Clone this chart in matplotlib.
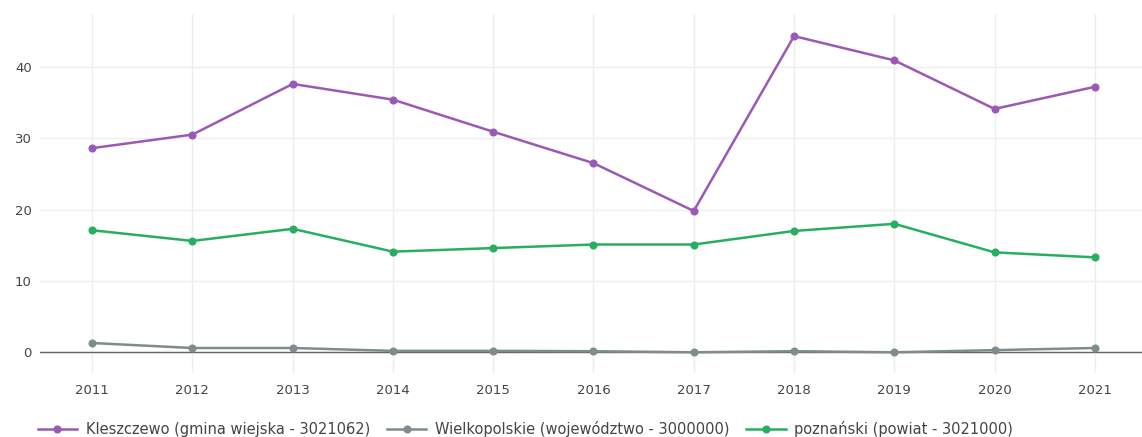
import matplotlib
matplotlib.use("Agg")
import matplotlib.pyplot as plt

years = [2011, 2012, 2013, 2014, 2015, 2016, 2017, 2018, 2019, 2020, 2021]
kleszczewo = [28.6, 30.5, 37.6, 35.4, 30.9, 26.5, 19.8, 44.3, 40.9, 34.1, 37.2]
wielkopolskie = [1.3, 0.6, 0.6, 0.2, 0.2, 0.15, 0.0, 0.15, 0.0, 0.3, 0.6]
poznanski = [17.1, 15.6, 17.3, 14.1, 14.6, 15.1, 15.1, 17.0, 18.0, 14.0, 13.3]

labels = ["Kleszczewo (gmina wiejska - 3021062)",
          "Wielkopolskie (województwo - 3000000)",
          "poznański (powiat - 3021000)"]
colors = ["#9b59b6", "#7f8c8d", "#27ae60"]
yticks = [0, 10, 20, 30, 40]

plt.rcParams['font.family'] = ['DejaVu Sans']
fig = plt.figure(figsize=(11.42, 4.37), dpi=100)
ax = fig.add_axes([0.035, 0.1465, 0.965, 0.8215])

for series, lab, col in zip([kleszczewo, wielkopolskie, poznanski], labels, colors):
    ax.plot(years, series, color=col, lw=1.8, marker='o', ms=4.8, label=lab, zorder=3)

ax.axhline(0, color="#666666", lw=1, zorder=2)
ax.set_xlim(2010.48, 2021.47)
ax.set_ylim(-2.9, 47.4)
ax.set_xticks(years)
ax.set_yticks(yticks)
ax.grid(True, color="#eeeeee", lw=1)
ax.set_axisbelow(True)
for s in ax.spines.values():
    s.set_visible(False)
ax.tick_params(length=0, labelsize=9.5, colors="#444444", pad=8)
ax.tick_params(axis='y', pad=6)

leg = fig.legend(loc='center left', bbox_to_anchor=(0.033, 0.018), ncol=3, frameon=False,
                 fontsize=10.5, handlelength=2.7, columnspacing=1.15, handletextpad=0.6,
                 borderaxespad=0, borderpad=0)
for t in leg.get_texts():
    t.set_color("#444444")

fig.savefig("out.png", dpi=100, facecolor="white")
